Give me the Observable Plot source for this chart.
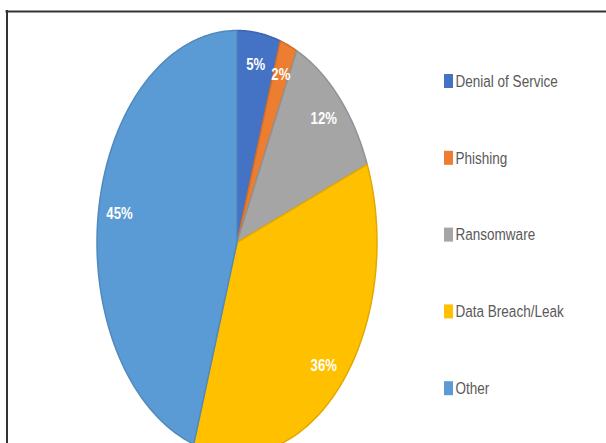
<!DOCTYPE html>
<html>
<head>
<meta charset="utf-8">
<script src="https://cdn.jsdelivr.net/npm/d3@7"></script>
<script src="https://cdn.jsdelivr.net/npm/@observablehq/plot@0.6"></script>
<style>
  html, body { margin: 0; padding: 0; background: #fff; overflow: hidden; }
  #chart { width: 606px; height: 443px; }
</style>
</head>
<body>
<div id="chart"></div>
<script>
// ---- data ----
const categories = ["Denial of Service", "Phishing", "Ransomware", "Data Breach/Leak", "Other"];
const values = [5, 2, 12, 36, 45];
const colors = ["#4472C4", "#ED7D31", "#A5A5A5", "#FFC000", "#5B9BD5"];
const labels = ["5%", "2%", "12%", "36%", "45%"];

// ---- layout (pixels) ----
const W = 606, H = 443;
const cx = 236.5, cy = 242, rx = 140, ry = 212;
const labelR = 0.85;

const rows = categories.map((name, i) => ({name, value: values[i], color: colors[i], label: labels[i], i}));
const arcs = d3.pie().sort(null).value(d => d.value)(rows);

const pt = (a, r = 1) => [cx + rx * r * Math.sin(a), cy - ry * r * Math.cos(a)];

// polygon outlines for each slice, derived from pie angles
const slicePts = [];
arcs.forEach(arc => {
  const n = Math.max(4, Math.ceil((arc.endAngle - arc.startAngle) / 0.01));
  slicePts.push({name: arc.data.name, p: [cx, cy]});
  for (let k = 0; k <= n; k++) {
    const a = arc.startAngle + (arc.endAngle - arc.startAngle) * k / n;
    slicePts.push({name: arc.data.name, p: pt(a)});
  }
  slicePts.push({name: arc.data.name, p: [cx, cy]});
});

const labelPts = arcs.map(arc => {
  const a = (arc.startAngle + arc.endAngle) / 2;
  const [x, y] = pt(a, labelR);
  return {x, y, text: arc.data.label};
});

const legendTop = 81, legendStep = 76.8;
const legend = rows.map(d => ({...d, y: legendTop + d.i * legendStep}));

const colorScale = {domain: categories, range: colors};
const strokeColors = colors.map(c => d3.color(c).darker(0.35).formatHex());
const fontFam = "'Liberation Sans Narrow', 'Liberation Sans', sans-serif";

const plot = Plot.plot({
  width: W,
  height: H,
  margin: 0,
  x: {type: "identity", axis: null},
  y: {type: "identity", axis: null},
  color: colorScale,
  style: {background: "#fff", overflow: "hidden"},
  marks: [
    ...categories.map((name, i) =>
      Plot.line(slicePts.filter(d => d.name === name), {
        x: d => d.p[0], y: d => d.p[1],
        fill: colors[i], stroke: strokeColors[i], strokeWidth: 1.5,
        strokeLinejoin: "round", curve: "linear-closed"
      })
    ),
    Plot.text(labelPts, {
      x: "x", y: "y", text: "text",
      fill: "white", fontWeight: "bold", fontSize: 16,
      fontFamily: fontFam, className: "narrow"
    }),
    Plot.rect(legend, {
      x1: () => 444, x2: () => 453,
      y1: d => d.y - 7, y2: d => d.y + 7,
      fill: "name"
    }),
    Plot.text(legend, {
      x: () => 455, y: "y", text: "name",
      textAnchor: "start", fill: "#595959", fontSize: 16.5,
      fontFamily: fontFam, className: "narrow"
    }),
    Plot.ruleY([11], {x1: 5.5, x2: W, stroke: "#333", strokeWidth: 2}),
    Plot.ruleX([6.5], {y1: 10, y2: H, stroke: "#333", strokeWidth: 2})
  ]
});
// condense text horizontally to mimic a narrow typeface
d3.select(plot).selectAll(".narrow text").attr("transform", function() {
  return (this.getAttribute("transform") || "") + " scale(0.82,1)";
});
document.getElementById("chart").append(plot);
</script>
</body>
</html>
